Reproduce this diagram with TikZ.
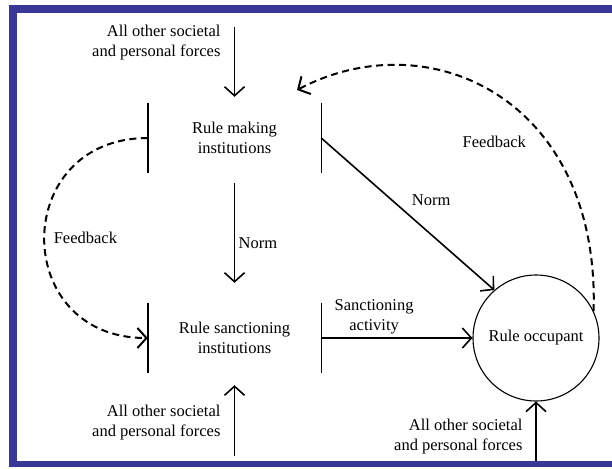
\documentclass[tikz,border=0pt]{standalone}
\usepackage{fontspec}
\setmainfont{Liberation Serif}
\usetikzlibrary{arrows.meta}
\definecolor{frameblue}{RGB}{58,56,150}
\tikzset{
  arr/.style={-{Straight Barb[length=9pt,width=20pt]}, line width=1.6pt},
  fb/.style={arr, dash pattern=on 7pt off 4.5pt, line width=2pt},
  inst/.style={minimum width=173pt, minimum height=70pt, inner sep=0pt, align=center},
  bar/.style={line width=1.4pt},
  forces/.style={align=right, anchor=east}
}
\begin{document}
\begin{tikzpicture}[x=1pt,y=-1pt,font=\fontsize{16.5}{20}\selectfont]
      \useasboundingbox (0,0) rectangle (612,468);
      % frame
      \fill[frameblue] (9,5) rectangle (612,13);
      \fill[frameblue] (9,5) rectangle (17,467);
      \fill[frameblue] (9,461) rectangle (612,467);

      \node[inst] (RM) at (234.5,138) {Rule making\\institutions};
      \node[inst] (RS) at (234.5,338) {Rule sanctioning\\institutions};
      \node[circle, draw, line width=1.1pt, minimum size=126pt, inner sep=0pt] (RO) at (536,338) {Rule occupant};
      \draw[bar] (RM.north west) -- (RM.south west) (RM.north east) -- (RM.south east);
      \draw[bar] (RS.north west) -- (RS.south west) (RS.north east) -- (RS.south east);

      \node[forces] (fTop) at (224,43) {All other societal\\and personal forces};
      \node[forces] (fBot) at (224,423) {All other societal\\and personal forces};
      \node[forces] (fOcc) at (526,437) {All other societal\\and personal forces};
      \coordinate (inTop) at (234.5,27);
      \coordinate (inBot) at (234.5,456);
      \coordinate (inOcc) at (536,461);
      \coordinate (fbEnd) at (297,90);

      \draw[arr] (inTop) -- ([yshift=6]RM.north);
      \draw[arr] ([yshift=-10]RM.south) -- node[right,pos=0.6] {Norm} ([yshift=20]RS.north);
      \draw[arr] (inBot) -- ([yshift=-12]RS.south);
      \draw[arr] (RS.east) -- node[above,pos=0.35,align=center] {Sanctioning\\activity} (RO.west);
      \draw[arr] (RM.east) -- node[above right,pos=0.5,yshift=4pt] {Norm} (RO.131);
      \draw[arr] (inOcc) -- (RO.south);
      \draw[fb] (RM.west) .. controls (10,138) and (10,338) .. node[right,pos=0.5,xshift=5pt] {Feedback} (RS.west);
      \draw[fb] (RO.25) .. controls (600,100) and (430,20) .. node[below left,pos=0.4,yshift=-10pt] {Feedback} (fbEnd);
    \end{tikzpicture}
\end{document}
